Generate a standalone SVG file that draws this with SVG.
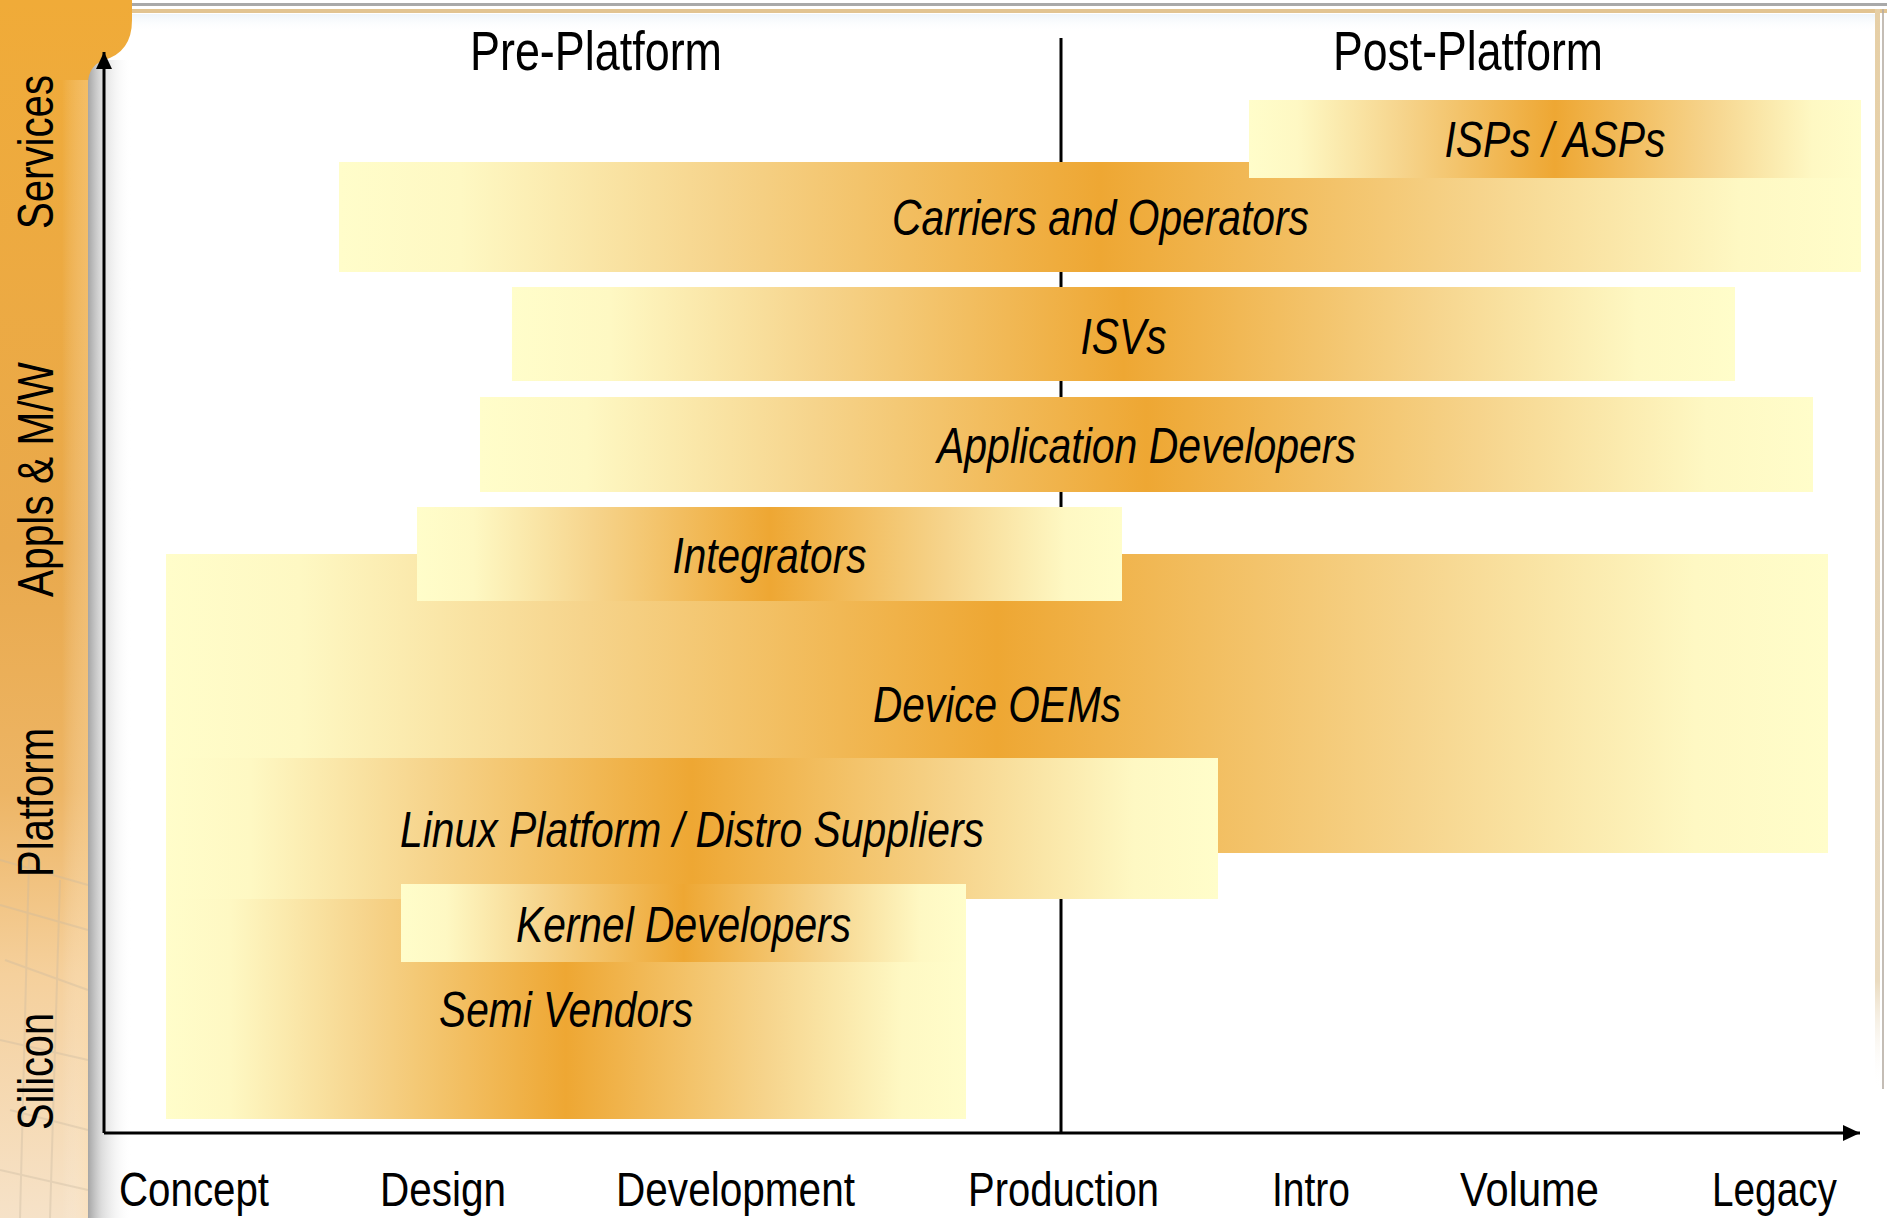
<svg xmlns="http://www.w3.org/2000/svg" width="1892" height="1218" viewBox="0 0 1892 1218">
  <defs>
    <linearGradient id="band" x1="0" y1="0" x2="1" y2="0">
      <stop offset="0" stop-color="#FFFDCA"/>
      <stop offset="0.08" stop-color="#FEF8C3"/>
      <stop offset="0.25" stop-color="#F6D48C"/>
      <stop offset="0.5" stop-color="#EEA733"/>
      <stop offset="0.75" stop-color="#F6D48C"/>
      <stop offset="0.92" stop-color="#FEF8C3"/>
      <stop offset="1" stop-color="#FFFDCA"/>
    </linearGradient>
    <linearGradient id="bar" x1="0" y1="0" x2="0" y2="1">
      <stop offset="0" stop-color="#F0AB38"/>
      <stop offset="0.45" stop-color="#E9A94C"/>
      <stop offset="0.65" stop-color="#EDB565"/>
      <stop offset="0.8" stop-color="#F5D09C"/>
      <stop offset="1" stop-color="#F6E2C8"/>
    </linearGradient>
    <linearGradient id="barEdge" x1="0" y1="0" x2="1" y2="0">
      <stop offset="0" stop-color="#FFFFFF" stop-opacity="0"/>
      <stop offset="1" stop-color="#FFE0B0" stop-opacity="0.35"/>
    </linearGradient>
    <linearGradient id="shadow" x1="0" y1="0" x2="1" y2="0">
      <stop offset="0" stop-color="#8E8E8E" stop-opacity="0.8"/>
      <stop offset="0.3" stop-color="#B8B8B8" stop-opacity="0.5"/>
      <stop offset="1" stop-color="#FFFFFF" stop-opacity="0"/>
    </linearGradient>
    <linearGradient id="rightFrame" x1="0" y1="0" x2="0" y2="1">
      <stop offset="0" stop-color="#E6CFA6"/>
      <stop offset="0.9" stop-color="#EADBC0"/>
      <stop offset="1" stop-color="#FFFFFF" stop-opacity="0"/>
    </linearGradient>
    <linearGradient id="topTint" x1="0" y1="0" x2="0" y2="1">
      <stop offset="0" stop-color="#EAF2F8" stop-opacity="0.8"/>
      <stop offset="1" stop-color="#FFFFFF" stop-opacity="0"/>
    </linearGradient>
    <marker id="arrow" markerUnits="userSpaceOnUse" markerWidth="18" markerHeight="18" viewBox="0 -9 18 18" refX="17" refY="0" orient="auto">
      <path d="M0,-8 L17,0 L0,8 Z" fill="#000"/>
    </marker>
    <style>
      .txt { font-family: 'Liberation Sans Narrow', 'Liberation Sans', Arial, sans-serif; fill: #000; text-anchor: middle; }
      .lbl { font-size: 50px; font-style: italic; }
      .ax { font-size: 49px; }
      .hdr { font-size: 55px; }
      .side { font-size: 50px; }
      .line { stroke: #000; stroke-width: 3; fill: none; }
    </style>
  </defs>

  <rect x="0" y="0" width="1892" height="1218" fill="#FFFFFF"/>

  <!-- frame -->
  <g id="frame">
    <rect x="120" y="14" width="1760" height="18" fill="url(#topTint)"/>
    <rect x="120" y="3" width="1767" height="3" fill="#A9A9A9"/>
    <rect x="120" y="9" width="1767" height="4" fill="#E2C491"/>
    <rect x="1875" y="9" width="5" height="1080" fill="url(#rightFrame)"/>
    <rect x="1882" y="9" width="2" height="1080" fill="#B5ADA3" opacity="0.8"/>
  </g>

  <!-- left sidebar -->
  <g id="sidebar">
    <rect x="88" y="60" width="44" height="1158" fill="url(#shadow)"/>
    <path d="M0,0 H132 V20 Q132,52 104,60 Q88,66 88,84 V1218 H0 Z" fill="url(#bar)"/>
    <rect x="62" y="80" width="26" height="1138" fill="url(#barEdge)"/>
    <g stroke="#C8B8A0" stroke-width="2" opacity="0.35" fill="none">
      <path d="M0,860 L88,885"/>
      <path d="M0,905 L88,930"/>
      <path d="M5,960 L88,990"/>
      <path d="M0,1040 L88,1060"/>
      <path d="M10,1110 L88,1130"/>
      <path d="M0,1170 L88,1190"/>
      <path d="M30,820 L20,1218"/>
      <path d="M60,880 L50,1218"/>
    </g>
    <text class="txt side" transform="translate(53,152) rotate(-90)" textLength="154" lengthAdjust="spacingAndGlyphs">Services</text>
    <text class="txt side" transform="translate(53,479.5) rotate(-90)" textLength="235" lengthAdjust="spacingAndGlyphs">Appls &amp; M/W</text>
    <text class="txt side" transform="translate(53,802.5) rotate(-90)" textLength="149" lengthAdjust="spacingAndGlyphs">Platform</text>
    <text class="txt side" transform="translate(53,1071.5) rotate(-90)" textLength="117" lengthAdjust="spacingAndGlyphs">Silicon</text>
  </g>

  <!-- divider line and axes (divider sits behind bands) -->
  <g id="connectors">
    <line class="line" x1="1061" y1="38" x2="1061" y2="1133"/>
    <line class="line" x1="104" y1="1133" x2="1860" y2="1133" marker-end="url(#arrow)" stroke-width="3.5"/>
    <line class="line" x1="104" y1="1133" x2="104" y2="52" marker-end="url(#arrow)"/>
  </g>

  <!-- headers -->
  <g id="headers">
    <text class="txt hdr" x="596" y="70" textLength="252" lengthAdjust="spacingAndGlyphs">Pre-Platform</text>
    <text class="txt hdr" x="1468" y="70" textLength="270" lengthAdjust="spacingAndGlyphs">Post-Platform</text>
  </g>

  <!-- bands -->
  <g id="carriers">
    <rect x="339" y="162" width="1522" height="110" fill="url(#band)"/>
    <text class="txt lbl" x="1100.5" y="235" textLength="417" lengthAdjust="spacingAndGlyphs">Carriers and Operators</text>
  </g>
  <g id="isps">
    <rect x="1249" y="100" width="612" height="78" fill="url(#band)"/>
    <text class="txt lbl" x="1555" y="157" textLength="221" lengthAdjust="spacingAndGlyphs">ISPs / ASPs</text>
  </g>
  <g id="isvs">
    <rect x="512" y="287" width="1223" height="94" fill="url(#band)"/>
    <text class="txt lbl" x="1123.5" y="354" textLength="86" lengthAdjust="spacingAndGlyphs">ISVs</text>
  </g>
  <g id="app-developers">
    <rect x="480" y="397" width="1333" height="95" fill="url(#band)"/>
    <text class="txt lbl" x="1146.5" y="463" textLength="419" lengthAdjust="spacingAndGlyphs">Application Developers</text>
  </g>
  <g id="device-oems">
    <rect x="166" y="554" width="1662" height="299" fill="url(#band)"/>
    <text class="txt lbl" x="997" y="722" textLength="248" lengthAdjust="spacingAndGlyphs">Device OEMs</text>
  </g>
  <g id="integrators">
    <rect x="417" y="507" width="705" height="94" fill="url(#band)"/>
    <text class="txt lbl" x="769.5" y="573" textLength="194" lengthAdjust="spacingAndGlyphs">Integrators</text>
  </g>
  <g id="linux-platform">
    <rect x="166" y="758" width="1052" height="141" fill="url(#band)"/>
    <text class="txt lbl" x="692" y="847" textLength="584" lengthAdjust="spacingAndGlyphs">Linux Platform / Distro Suppliers</text>
  </g>
  <g id="semi-vendors">
    <rect x="166" y="899" width="800" height="220" fill="url(#band)"/>
    <text class="txt lbl" x="566" y="1027" textLength="254" lengthAdjust="spacingAndGlyphs">Semi Vendors</text>
  </g>
  <g id="kernel-developers">
    <rect x="401" y="884" width="565" height="78" fill="url(#band)"/>
    <text class="txt lbl" x="683.5" y="942" textLength="335" lengthAdjust="spacingAndGlyphs">Kernel Developers</text>
  </g>

  <!-- x axis labels -->
  <g id="axis-labels">
    <text class="txt ax" x="194" y="1206" textLength="150" lengthAdjust="spacingAndGlyphs">Concept</text>
    <text class="txt ax" x="443" y="1206" textLength="126" lengthAdjust="spacingAndGlyphs">Design</text>
    <text class="txt ax" x="735.5" y="1206" textLength="239" lengthAdjust="spacingAndGlyphs">Development</text>
    <text class="txt ax" x="1063.5" y="1206" textLength="191" lengthAdjust="spacingAndGlyphs">Production</text>
    <text class="txt ax" x="1311" y="1206" textLength="78" lengthAdjust="spacingAndGlyphs">Intro</text>
    <text class="txt ax" x="1529.5" y="1206" textLength="139" lengthAdjust="spacingAndGlyphs">Volume</text>
    <text class="txt ax" x="1774.5" y="1206" textLength="125" lengthAdjust="spacingAndGlyphs">Legacy</text>
  </g>
</svg>
